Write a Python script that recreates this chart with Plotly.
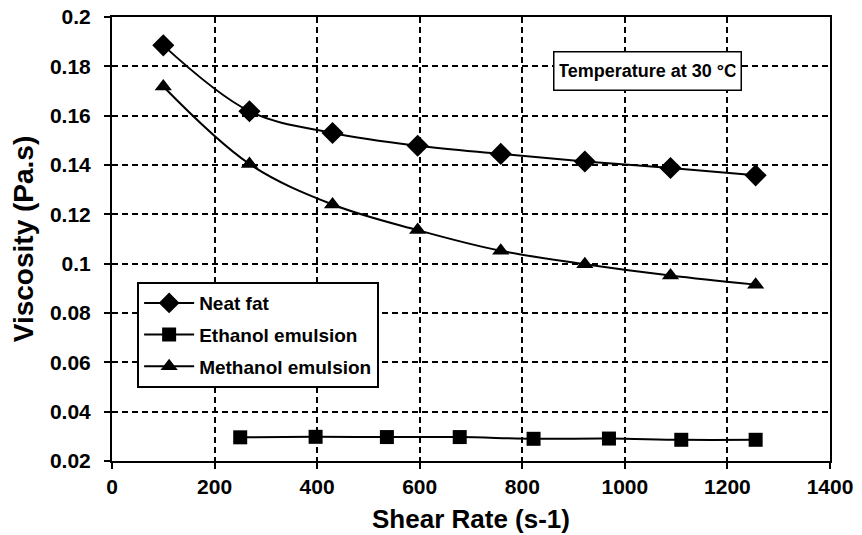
import plotly.graph_objects as go

neat_x = [100, 268, 430, 596, 758, 922, 1089, 1255]
neat_y = [0.1885, 0.1618, 0.1530, 0.1478, 0.1445, 0.1414, 0.1388, 0.1358]

eth_x = [250, 397, 536, 678, 822, 969, 1110, 1255]
eth_y = [0.0296, 0.0298, 0.0297, 0.0297, 0.0290, 0.0291, 0.0286, 0.0286]

meth_x = [100, 268, 430, 596, 758, 922, 1089, 1255]
meth_y = [0.1718, 0.1404, 0.1240, 0.1136, 0.1052, 0.0998, 0.0952, 0.0915]

x_ticks = [0, 200, 400, 600, 800, 1000, 1200, 1400]
y_ticks = [0.02, 0.04, 0.06, 0.08, 0.1, 0.12, 0.14, 0.16, 0.18, 0.2]
y_tick_labels = ["0.02", "0.04", "0.06", "0.08", "0.1", "0.12", "0.14", "0.16", "0.18", "0.2"]

FONT = "Liberation Sans, Arial, sans-serif"

fig = go.Figure()
fig.add_trace(go.Scatter(x=neat_x, y=neat_y, name="Neat fat", mode="lines+markers",
                         legendgroup="a",
                         line=dict(color="black", width=2, shape="spline"),
                         marker=dict(symbol="diamond", size=17, color="black")))
fig.add_trace(go.Scatter(x=eth_x, y=eth_y, name="Ethanol emulsion", mode="lines+markers",
                         legendgroup="b",
                         line=dict(color="black", width=2, shape="spline"),
                         marker=dict(symbol="square", size=14, color="black")))
fig.add_trace(go.Scatter(x=meth_x, y=meth_y, name="Methanol emulsion", mode="lines+markers",
                         legendgroup="c",
                         line=dict(color="black", width=2, shape="spline"),
                         marker=dict(symbol="triangle-up", size=15, color="black")))

axis_common = dict(
    showline=True, linecolor="black", linewidth=2, mirror=True,
    ticks="outside", ticklen=6, tickwidth=2, tickcolor="black",
    showgrid=True, gridcolor="black", gridwidth=2, griddash="6px,4px",
    zeroline=False, automargin=False, ticklabeloverflow="allow",
    tickfont=dict(family=FONT, size=21, color="black", weight="bold"),
)

fig.update_xaxes(range=[0, 1400], tickvals=x_ticks,
                 title=dict(text="Shear Rate (s-1)", standoff=13,
                            font=dict(family=FONT, size=26, color="black", weight="bold")),
                 **axis_common)
fig.update_yaxes(range=[0.02, 0.2], tickvals=y_ticks, ticktext=y_tick_labels,
                 ticklabelstandoff=9,
                 title=dict(text="Viscosity (Pa.s)", standoff=8,
                            font=dict(family=FONT, size=28, color="black", weight="bold")),
                 **axis_common)

fig.add_annotation(xref="paper", yref="paper", x=0.746, y=0.879,
                   xanchor="center", yanchor="middle",
                   text="Temperature at 30 °C", showarrow=False,
                   font=dict(family=FONT, size=18, color="black", weight="bold"),
                   width=176, height=27,
                   bgcolor="white", bordercolor="black", borderwidth=1.5, borderpad=5)

fig.update_layout(
    width=862, height=535,
    margin=dict(l=112, r=32, t=17, b=74),
    paper_bgcolor="white", plot_bgcolor="white",
    showlegend=True,
    legend=dict(x=0.035, y=0.403, xanchor="left", yanchor="top",
                bgcolor="white", bordercolor="black", borderwidth=2,
                font=dict(family=FONT, size=19, color="black", weight="bold"),
                itemwidth=50, tracegroupgap=4),
)

fig.write_html("out.html", config={"displayModeBar": False},
               post_script="document.body.style.margin='0';document.body.style.overflow='hidden';")
